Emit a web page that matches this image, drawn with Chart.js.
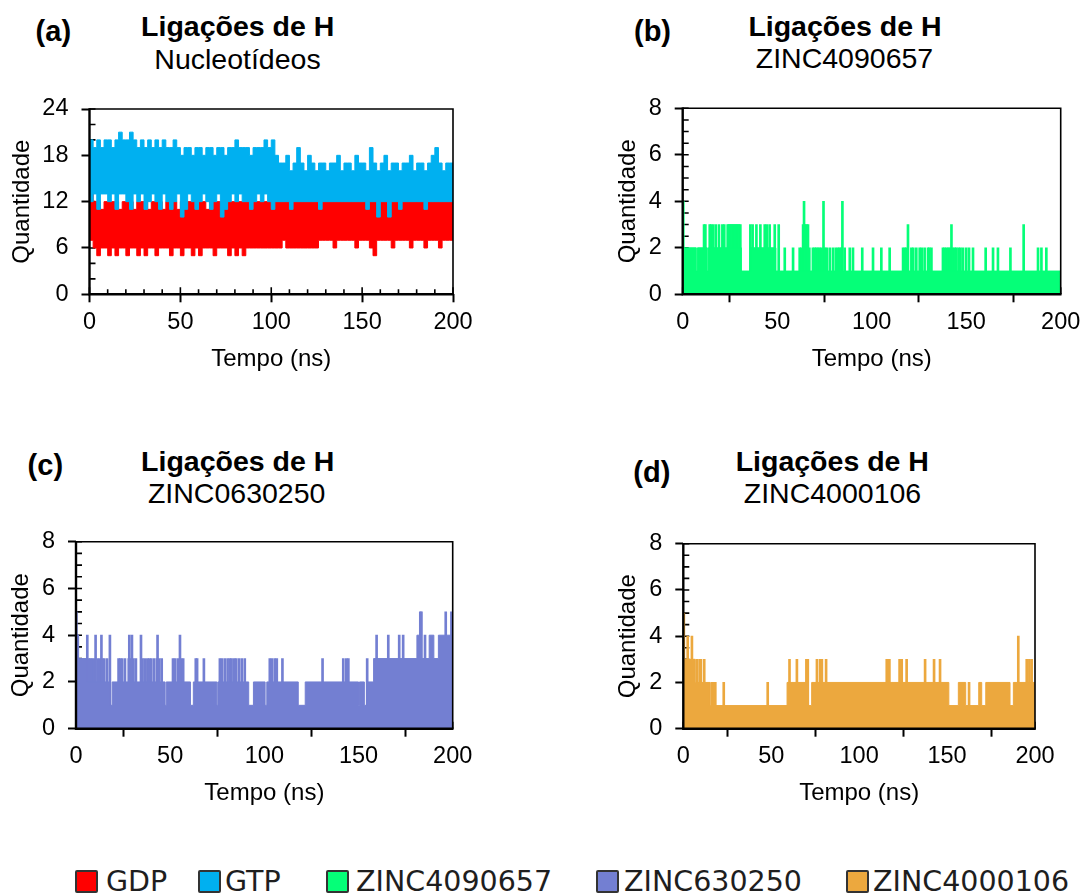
<!DOCTYPE html>
<html>
<head>
<meta charset="utf-8">
<script src="https://cdn.jsdelivr.net/npm/chart.js@4.4.1/dist/chart.umd.min.js"></script>
<style>
  body { margin: 0; background: #fff; width: 1086px; height: 895px; position: relative; overflow: hidden;
         font-family: "Liberation Sans", Arial, sans-serif; color: #000; }
  canvas { position: absolute; }
  .letra { position: absolute; font-weight: bold; font-size: 29px; line-height: 29px; }
  .tit { position: absolute; font-weight: bold; font-size: 28.5px; line-height: 28.5px; transform: translateX(-50%); white-space: nowrap; }
  .sub { position: absolute; font-size: 28.5px; line-height: 28.5px; transform: translateX(-50%); white-space: nowrap; }
  .leg { position: absolute; top: 868px; font-family: "DejaVu Sans", sans-serif; font-size: 28.5px; line-height: 28.5px; color: #1e1e1e; white-space: nowrap; }
  .cx { position: absolute; top: 870px; width: 19px; height: 19px; border: 2px solid #333; border-radius: 2px; }
</style>
</head>
<body>

<div class="letra" style="left:35.6px;top:17.2px">(a)</div>
<div class="tit" style="left:237.7px;top:11.9px">Ligações de H</div>
<div class="sub" style="left:237.5px;top:44.9px">Nucleotídeos</div>

<div class="letra" style="left:634px;top:17.2px">(b)</div>
<div class="tit" style="left:845px;top:11.9px">Ligações de H</div>
<div class="sub" style="left:844.5px;top:44.2px">ZINC4090657</div>

<div class="letra" style="left:27.6px;top:450.5px">(c)</div>
<div class="tit" style="left:237.7px;top:446.6px">Ligações de H</div>
<div class="sub" style="left:236.7px;top:478.6px">ZINC0630250</div>

<div class="letra" style="left:633.3px;top:457.8px">(d)</div>
<div class="tit" style="left:832.3px;top:446.6px">Ligações de H</div>
<div class="sub" style="left:832.5px;top:479.2px">ZINC4000106</div>

<canvas id="cv-a"></canvas>
<canvas id="cv-b"></canvas>
<canvas id="cv-c"></canvas>
<canvas id="cv-d"></canvas>

<div class="cx" style="left:75px;background:#FF0000"></div><div class="leg" style="left:106px">GDP</div>
<div class="cx" style="left:198px;background:#00B0F0"></div><div class="leg" style="left:225px">GTP</div>
<div class="cx" style="left:326px;background:#05FF78"></div><div class="leg" style="left:356px">ZINC4090657</div>
<div class="cx" style="left:596px;background:#737FD2"></div><div class="leg" style="left:624px">ZINC630250</div>
<div class="cx" style="left:846px;background:#ECA83E"></div><div class="leg" style="left:873px">ZINC4000106</div>

<script>
// cores das series
var corGDP = '#FF0000';
var corGTP = '#00B0F0';
var corB = '#05FF78';
var corC = '#737FD2';
var corD = '#ECA83E';

// (a) nucleotideos: envelope (max / min) a cada 2 ns, de 0 a 200 ns
var tempoA = Array.from({length: 101}, function(_, i) { return i * 2; });
var gtpMax = [20,19,20,19,20,20,19,20,21,20,
              20,21,20,19,20,19,20,19,20,19,
              20,19,19,20,19,18,19,19,18,19,
              19,18,19,19,18,19,19,18,19,19,
              20,19,19,19,18,19,19,19,20,19,
              20,18,17,17,18,16,17,19,17,16,
              18,17,16,17,17,16,17,17,18,16,
              17,17,16,18,17,17,16,19,17,16,
              17,18,16,17,17,16,17,17,18,16,
              17,17,16,17,18,19,17,16,17,17,
              16];
var gtpMin = [12,13,11,13,13,12,13,11,13,13,
              12,11,13,12,13,11,12,13,12,11,
              13,12,11,12,13,10,11,13,12,11,
              12,13,12,11,12,13,10,11,12,13,
              12,13,12,12,11,12,13,12,13,12,
              11,12,12,12,12,11,12,12,12,12,
              12,12,12,11,12,12,12,12,12,12,
              12,12,12,12,12,12,11,12,12,10,
              12,12,10,12,12,11,12,12,12,12,
              12,12,11,12,12,12,12,12,12,12,
              12];
var gdpMax = [13,12,12,11,12,12,12,12,11,12,
              12,12,11,12,12,12,11,12,12,12,
              11,12,12,12,11,12,12,12,12,11,
              12,12,11,12,12,12,12,11,12,12,
              12,12,12,12,11,12,12,12,12,12,
              12,12,12,12,12,12,12,12,12,12,
              12,12,12,12,12,12,12,12,12,12,
              12,12,12,12,12,12,12,12,12,12,
              12,12,12,12,12,12,12,12,12,12,
              12,12,12,12,12,12,12,12,12,12,
              12];
var gdpMin = [7,6,5,6,6,5,6,5,6,6,
              5,6,6,5,6,5,6,6,5,6,
              6,6,5,6,6,5,6,6,5,6,
              5,6,6,6,5,6,6,6,5,6,
              5,6,5,6,6,6,6,6,6,6,
              6,6,6,7,6,6,6,6,6,6,
              6,6,6,7,7,7,7,6,7,7,
              7,7,7,6,7,7,7,6,5,7,
              7,7,7,6,7,7,7,7,6,7,
              7,7,6,7,7,7,6,7,7,7,
              7];

// (b) ZINC4090657: nivel de base (inicio do trecho em ns) e picos [ns, quantidade]
var zincB_inicio = [0, 0.6, 7.2, 7.8, 13, 13.6, 31, 36, 49.3, 200];
var zincB_nivel  = [4, 2, 1, 2, 1, 2, 1, 2, 1, 1];
var zincB_picos = [[0.2,4],[11.3,3],[12,3],[14.3,3],[15,3],[16.1,3],[17.5,3],[19.2,3],[21,3],[22,3],
  [23.8,3],[24.4,3],[25,3],[25.6,3],[26.2,3],[26.8,3],[27.4,3],[28,3],[28.6,3],[29.2,3],[29.8,3],[30.5,3],
  [35.8,3],[37,3],[39,3],[41.1,3],[43.4,3],[44.5,3],[46,3],[48.7,3],[50.8,3],[54,2],[58.4,2],[61.9,2],
  [62.8,2],[63.7,3],[64.2,4],[64.8,3],[65.5,3],[66.3,3],[67,2],[68.9,2],[69.8,2],[70.7,2],[71.6,2],[72.5,2],
  [73.5,2],[74.5,4],[75.3,2],[76.2,2],[77.8,2],[79.5,2],[81,2],[82.2,2],[83,2],[84,2],[84.5,4],[85.7,2],
  [88.4,2],[90.1,2],[95,2],[100.7,2],[105.1,2],[109.5,2],[116.6,2],[117.5,2],[118.3,2],[119.2,3],[121,2],
  [122,2],[123.6,2],[125.4,2],[126.5,2],[128,2],[129.8,2],[130.5,2],[131.6,2],[137.7,2],[138.5,2],[139.5,2],
  [140.5,2],[141.3,2],[142.2,3],[143,2],[144,2],[144.8,2],[146,2],[147,2],[148.3,2],[150,2],[151.5,2],
  [153.6,2],[160.3,2],[164.2,2],[166.8,2],[173.4,2],[180.4,3],[188,2],[189.8,2],[192.4,2]];

// (c) ZINC0630250
var zincC_inicio = [0, 1.4, 6, 18.3, 19.2, 47.3, 47.9, 60.8, 62.3, 74.8, 75.3, 91.7, 94.2, 100.4, 101.3,
                    118, 121.7, 150, 150.5, 153.1, 154.6, 158, 181, 183, 187.5, 190, 192.4, 200];
var zincC_nivel  = [4, 3, 2, 1, 2, 1, 2, 1, 2, 1, 2, 1, 2, 1, 2,
                    1, 2, 1, 2, 1, 2, 3, 4, 3, 4, 3, 4, 4];
var zincC_picos = [[0.2,5],[0.8,4],[6,4],[6.8,3],[7.6,3],[8.5,3],[9.5,3],[10.4,4],[11.5,3],[12.7,3],
  [13.5,4],[13.9,3],[15,3],[16.5,3],[18,4],[22.6,3],[23.5,3],[24.5,3],[26,3],[28,3],[28.3,4],[29,3],
  [29.7,4],[30.5,3],[31.8,3],[34.5,4],[35.3,3],[36.5,3],[37.9,3],[38.9,3],[40,3],[41.5,3],[43,3],[43.3,4],
  [44.2,3],[45.5,3],[51.5,3],[52.5,3],[54,3],[55.2,4],[55.8,3],[56.9,3],[63.6,3],[64.3,3],[67.9,3],
  [76.4,3],[77.5,3],[79,3],[80.5,3],[81.7,3],[82.6,3],[84,3],[85,3],[86.5,3],[88,3],[89.6,3],[102.9,3],
  [104,3],[105.5,3],[106.6,3],[109.6,3],[130.9,3],[141.9,3],[143.5,3],[144.6,3],[154.6,3],[159.6,4],
  [165.8,4],[171.6,4],[173.7,4],[182.8,5],[183.4,5],[185.3,4],[196.3,5],[199.3,5]];

// (d) ZINC4000106
var zincD_inicio = [0, 6.8, 15.3, 59, 71.2, 73, 151, 156.4, 160.6, 168, 169.7, 172, 185.8, 187.7, 200];
var zincD_nivel  = [3, 2, 1, 2, 1, 2, 1, 2, 1, 2, 1, 2, 1, 2, 2];
var zincD_picos = [[0.3,5],[1.8,3],[2.5,4],[3.5,3],[4.9,4],[5.5,3],[7.8,3],[9.3,3],[10,3],[11.9,3],
  [16.3,2],[17.2,2],[18.2,2],[23,2],[48,2],[60.4,3],[64.6,3],[70,3],[70.8,3],[76,3],[77.8,3],[78.8,3],
  [81.2,3],[115.7,3],[116.4,3],[117.2,3],[123,3],[124.2,3],[127,3],[137.5,3],[142.6,3],[146,3],
  [162.5,2],[190.5,4],[195.3,3],[196.8,3],[198.1,3]];

function degraus(tempos, valores) {
  return tempos.map(function(t, i) { return {x: t, y: valores[i]}; });
}
function picos(lista) {
  return lista.map(function(p) { return {x: p[0], y: p[1]}; });
}

Chart.defaults.font.family = '"Liberation Sans", Arial, sans-serif';
Chart.defaults.color = '#000';

// marcas internas dos eixos e moldura do grafico
var caixa = {
  id: 'caixa',
  beforeDatasetsDraw: function(chart, args, o) {
    var ctx = chart.ctx, a = chart.chartArea, x = chart.scales.x, y = chart.scales.y;
    ctx.save();
    ctx.strokeStyle = '#000';
    ctx.lineWidth = 1.6;
    ctx.beginPath();
    for (var v = 0; v <= y.max + 1e-9; v += o.yMenor) {
      var py = y.getPixelForValue(v);
      ctx.moveTo(a.left, py); ctx.lineTo(a.left + 6, py);
    }
    for (var t = 0; t <= x.max + 1e-9; t += o.xMenor) {
      var px = x.getPixelForValue(t);
      ctx.moveTo(px, a.bottom); ctx.lineTo(px, a.bottom - (t % 50 === 0 ? 7 : 5));
    }
    ctx.stroke();
    ctx.restore();
  },
  afterDatasetsDraw: function(chart) {
    var ctx = chart.ctx, a = chart.chartArea;
    ctx.save();
    ctx.strokeStyle = '#000';
    ctx.lineWidth = 1.6;
    ctx.beginPath();
    ctx.moveTo(a.left, a.top); ctx.lineTo(a.right, a.top); ctx.lineTo(a.right, a.bottom);
    ctx.stroke();
    ctx.lineWidth = 2.4;
    ctx.beginPath();
    ctx.moveTo(a.left, a.top - 0.8); ctx.lineTo(a.left, a.bottom); ctx.lineTo(a.right + 0.8, a.bottom);
    ctx.stroke();
    ctx.restore();
  }
};

// posicao de cada painel: canvas [esq, topo, larg, alt], area do grafico [L, T, R, B]
var paineis = [
  {id: 'a', canvas: [0, 72, 520, 340], area: [89.5, 109, 453, 294.3], yTitulo: 22.5, xTitulo: 359, yMax: 24, yPasso: 6, yMenor: 2, xMenor: 10},
  {id: 'b', canvas: [590, 72, 510, 340], area: [682.7, 108.3, 1060.7, 294.3], yTitulo: 628, xTitulo: 359, yMax: 8, yPasso: 2, yMenor: 0.5, xMenor: 50},
  {id: 'c', canvas: [0, 505, 520, 340], area: [76, 541.7, 452.7, 728.7], yTitulo: 21.7, xTitulo: 793.5, yMax: 8, yPasso: 2, yMenor: 0.5, xMenor: 50},
  {id: 'd', canvas: [590, 505, 510, 340], area: [683.3, 543.7, 1035, 728.7], yTitulo: 628, xTitulo: 793.5, yMax: 8, yPasso: 2, yMenor: 0.5, xMenor: 50}
];

var fonteTit = 24;
var fonteTick = 23.5;

function criar(p, datasets) {
  var cv = document.getElementById('cv-' + p.id);
  var cl = p.canvas[0], ct = p.canvas[1], cw = p.canvas[2], ch = p.canvas[3];
  var L = p.area[0], T = p.area[1], R = p.area[2], B = p.area[3];
  cv.width = cw; cv.height = ch;
  cv.style.left = cl + 'px'; cv.style.top = ct + 'px';
  cv.style.width = cw + 'px'; cv.style.height = ch + 'px';
  var meiaLinha = fonteTit * 1.2 / 2;
  var alturaX = p.xTitulo - B + meiaLinha;
  var marcas = {drawOnChartArea: false, drawTicks: true, tickLength: 8, tickWidth: 2, tickColor: '#000', color: '#000'};
  return new Chart(cv, {
    type: 'line',
    data: {datasets: datasets},
    options: {
      responsive: false,
      animation: false,
      events: [],
      layout: {padding: {left: 0, top: T - ct, right: cl + cw - R, bottom: ct + ch - B - alturaX}},
      plugins: {
        legend: {display: false},
        tooltip: {enabled: false},
        caixa: {yMenor: p.yMenor, xMenor: p.xMenor}
      },
      scales: {
        x: {
          type: 'linear', min: 0, max: 200, offset: false,
          ticks: {stepSize: 50, padding: 6, maxRotation: 0, autoSkip: false, font: {size: fonteTick}},
          grid: marcas,
          border: {display: false},
          title: {display: true, text: 'Tempo (ns)', font: {size: fonteTit}, padding: {top: 0, bottom: 0}},
          afterFit: function(s) { s.height = alturaX; }
        },
        y: {
          min: 0, max: p.yMax,
          ticks: {stepSize: p.yPasso, padding: 13, font: {size: fonteTick}},
          grid: marcas,
          border: {display: false},
          title: {display: true, text: 'Quantidade', font: {size: fonteTit}, padding: {top: p.yTitulo - cl - meiaLinha, bottom: 0}},
          afterFit: function(s) { s.width = L - cl; }
        }
      }
    },
    plugins: [caixa]
  });
}

function faixa(dados, cor, preencher) {
  return {data: dados, borderColor: cor, backgroundColor: cor, borderWidth: 1,
          pointRadius: 0, stepped: true, fill: preencher};
}
function barras(dados, cor) {
  return {type: 'bar', data: dados, backgroundColor: cor, barThickness: 2, grouped: false};
}

// (a) GTP por cima do GDP
criar(paineis[0], [
  faixa(degraus(tempoA, gtpMax), corGTP, '+1'),
  faixa(degraus(tempoA, gtpMin), corGTP, false),
  faixa(degraus(tempoA, gdpMax), corGDP, '+1'),
  faixa(degraus(tempoA, gdpMin), corGDP, false)
]);

criar(paineis[1], [
  faixa(degraus(zincB_inicio, zincB_nivel), corB, 'origin'),
  barras(picos(zincB_picos), corB)
]);

criar(paineis[2], [
  faixa(degraus(zincC_inicio, zincC_nivel), corC, 'origin'),
  barras(picos(zincC_picos), corC)
]);

criar(paineis[3], [
  faixa(degraus(zincD_inicio, zincD_nivel), corD, 'origin'),
  barras(picos(zincD_picos), corD)
]);
</script>
</body>
</html>
